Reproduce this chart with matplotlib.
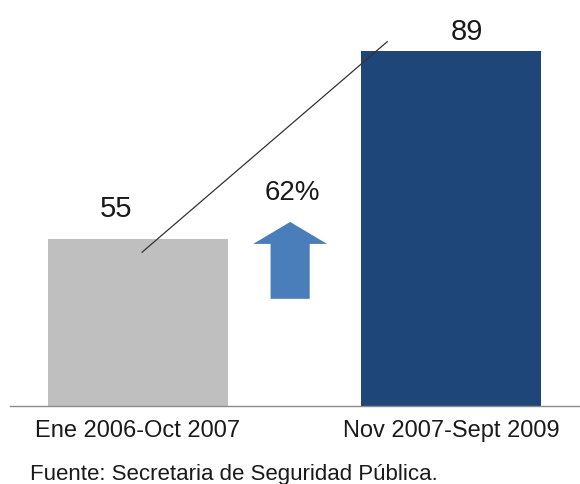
import matplotlib
matplotlib.use('Agg')
import matplotlib.pyplot as plt
from matplotlib.patches import FancyArrow

periodos = ['Ene 2006-Oct 2007', 'Nov 2007-Sept 2009']
valores = [55, 89]
colores = ['#BFBFBF', '#1F4678']
# desplazamiento de las etiquetas de valor (pixeles), como en el original
label_offsets = [(-22, 23), (16, 12)]
fuente = 'Fuente: Secretaria de Seguridad Pública.'

plt.rcParams['font.family'] = ['Liberation Sans', 'DejaVu Sans']

fig = plt.figure(figsize=(5.8, 4.85), dpi=100)
ax = fig.add_axes([0.0172, 0.1608, 0.9828, 0.8392])

x = list(range(len(valores)))
ax.bar(x, valores, width=0.575, color=colores, bottom=0)
ax.set_xlim(-0.409, 1.412)
ax.set_ylim(25, 98.3)

for i, v in enumerate(valores):
  ax.annotate(str(v), xy=(i, v), xytext=label_offsets[i], textcoords='offset pixels',
              ha='center', va='baseline', fontsize=21, color='#1a1a1a')

# linea diagonal de tendencia
ax.plot([0.013, 0.796], [valores[0] - 2.3, valores[1] + 1.6], color='#333333', lw=0.9)

# flecha de crecimiento
crec = round((valores[1] - valores[0]) / valores[0] * 100)
ax.add_patch(FancyArrow(0.486, 44.3, 0, 58.15 - 44.3, width=0.125, head_width=0.236,
                        head_length=3.96, length_includes_head=True,
                        color='#4A7EBB', lw=0))
ax.text(0.492, 62.3, f'{crec}%', ha='center', va='baseline', fontsize=20, color='#1a1a1a')

for s in ['top', 'right', 'left']:
  ax.spines[s].set_visible(False)
ax.spines['bottom'].set_color('#8c8c8c')
ax.spines['bottom'].set_linewidth(1.0)
ax.set_yticks([])
ax.set_xticks(x, periodos, fontsize=17, color='#1a1a1a')
ax.tick_params(axis='x', length=0, pad=9.5)

fig.text(30 / 580, 5 / 485, fuente, ha='left', va='baseline', fontsize=16, color='#1a1a1a')

fig.savefig('out.png', dpi=100)
